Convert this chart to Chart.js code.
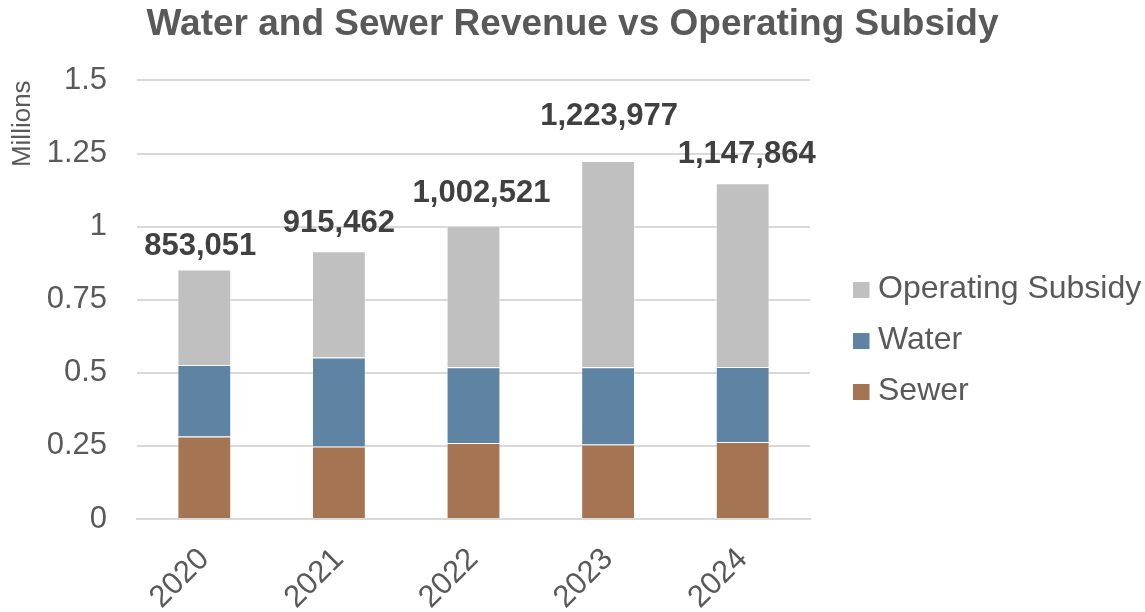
<!DOCTYPE html>
<html>
<head>
<meta charset="utf-8">
<script src="https://cdn.jsdelivr.net/npm/chart.js@4/dist/chart.umd.min.js"></script>
<style>
html,body{margin:0;padding:0;background:#fff;}
#wrap{width:1145px;height:612px;position:relative;}
</style>
</head>
<body>
<div id="wrap"><canvas id="c" width="1145" height="612"></canvas></div>
<script>
const categories = ["2020", "2021", "2022", "2023", "2024"];
const sewer = [282000, 248000, 260000, 255000, 263000];
const water = [245000, 304000, 259000, 264000, 257000];
const subsidy = [326051, 363462, 483521, 704977, 627864];
const totalLabels = ["853,051", "915,462", "1,002,521", "1,223,977", "1,147,864"];
const yTicks = [0, 250000, 500000, 750000, 1000000, 1250000, 1500000];

const FONT = "'Liberation Sans', Arial, sans-serif";

// manual placement of the total labels (pixel nudges, as in the original)
const labelDx = [-4, 0, 8, 1, 4];
const labelGap = [15, 19, 24, 36, 20];

const totalsPlugin = {
  id: 'totals',
  afterDatasetsDraw(chart) {
    const ctx = chart.ctx;
    const meta = chart.getDatasetMeta(2);
    ctx.save();
    ctx.font = "bold 31px " + FONT;
    ctx.fillStyle = "#404040";
    ctx.textAlign = "center";
    ctx.textBaseline = "alphabetic";
    meta.data.forEach((bar, i) => {
      ctx.fillText(totalLabels[i], bar.x + labelDx[i], bar.y - labelGap[i]);
    });
    ctx.restore();
  }
};

const legendPlugin = {
  id: 'sideLegend',
  afterDraw(chart) {
    const ctx = chart.ctx;
    const area = chart.chartArea;
    const items = chart.data.datasets.map((d) => ({ text: d.label, color: d.backgroundColor })).reverse();
    const x0 = area.right + 43;
    const yCenter = 341;
    const step = 51;
    ctx.save();
    ctx.font = "32px " + FONT;
    ctx.textBaseline = "middle";
    ctx.textAlign = "left";
    items.forEach((it, i) => {
      const cy = yCenter + (i - 1) * step;
      ctx.fillStyle = it.color;
      ctx.fillRect(x0, cy - 8, 16.5, 16);
      ctx.fillStyle = '#595959';
      ctx.fillText(it.text, x0 + 25, cy - 1);
    });
    ctx.restore();
  }
};

new Chart(document.getElementById('c'), {
  type: 'bar',
  data: {
    labels: categories,
    datasets: [
      { label: 'Sewer', data: sewer, backgroundColor: '#a57553', borderColor: 'rgba(255,255,255,0.35)', borderWidth: 1, categoryPercentage: 1, barPercentage: 0.4 },
      { label: 'Water', data: water, backgroundColor: '#5f83a3', borderColor: 'rgba(255,255,255,0.35)', borderWidth: 1, categoryPercentage: 1, barPercentage: 0.4 },
      { label: 'Operating Subsidy', data: subsidy, backgroundColor: '#c0c0c0', borderColor: 'rgba(255,255,255,0.5)', borderWidth: 1, categoryPercentage: 1, barPercentage: 0.4 }
    ]
  },
  options: {
    responsive: false,
    animation: false,
    devicePixelRatio: 1,
    layout: { padding: 0 },
    plugins: {
      title: {
        display: true,
        text: 'Water and Sewer Revenue vs Operating Subsidy',
        color: '#595959',
        font: { family: FONT, size: 37, weight: 'bold' },
        padding: { top: 3, bottom: 33 },
        fullSize: true
      },
      legend: { display: false },
      tooltip: { enabled: false }
    },
    scales: {
      x: {
        stacked: true,
        grid: { display: false },
        border: { color: '#d9d9d9', width: 2 },
        ticks: {
          color: '#595959',
          font: { family: FONT, size: 31 },
          minRotation: 45,
          maxRotation: 45,
          padding: 14
        },
        afterFit(scale) { scale.height = 93; }
      },
      y: {
        stacked: true,
        min: 0,
        max: 1500000,
        afterBuildTicks(scale) { scale.ticks = yTicks.map(v => ({ value: v })); },
        grid: { color: '#d9d9d9', lineWidth: 2, drawTicks: false },
        border: { display: false },
        ticks: {
          color: '#595959',
          font: { family: FONT, size: 31 },
          padding: 30,
          callback: v => String(v / 1000000)
        },
        title: {
          display: true,
          text: 'Millions',
          align: 'end',
          color: '#595959',
          font: { family: FONT, size: 26 },
          padding: { top: 7, bottom: 0 }
        },
        afterFit(scale) { scale.width = 137; }
      },
      legendSpace: {
        type: 'linear',
        position: 'right',
        display: true,
        grid: { display: false, drawTicks: false },
        border: { display: false },
        ticks: { display: false },
        afterFit(scale) { scale.width = 335; }
      }
    }
  },
  plugins: [totalsPlugin, legendPlugin]
});
</script>
</body>
</html>
